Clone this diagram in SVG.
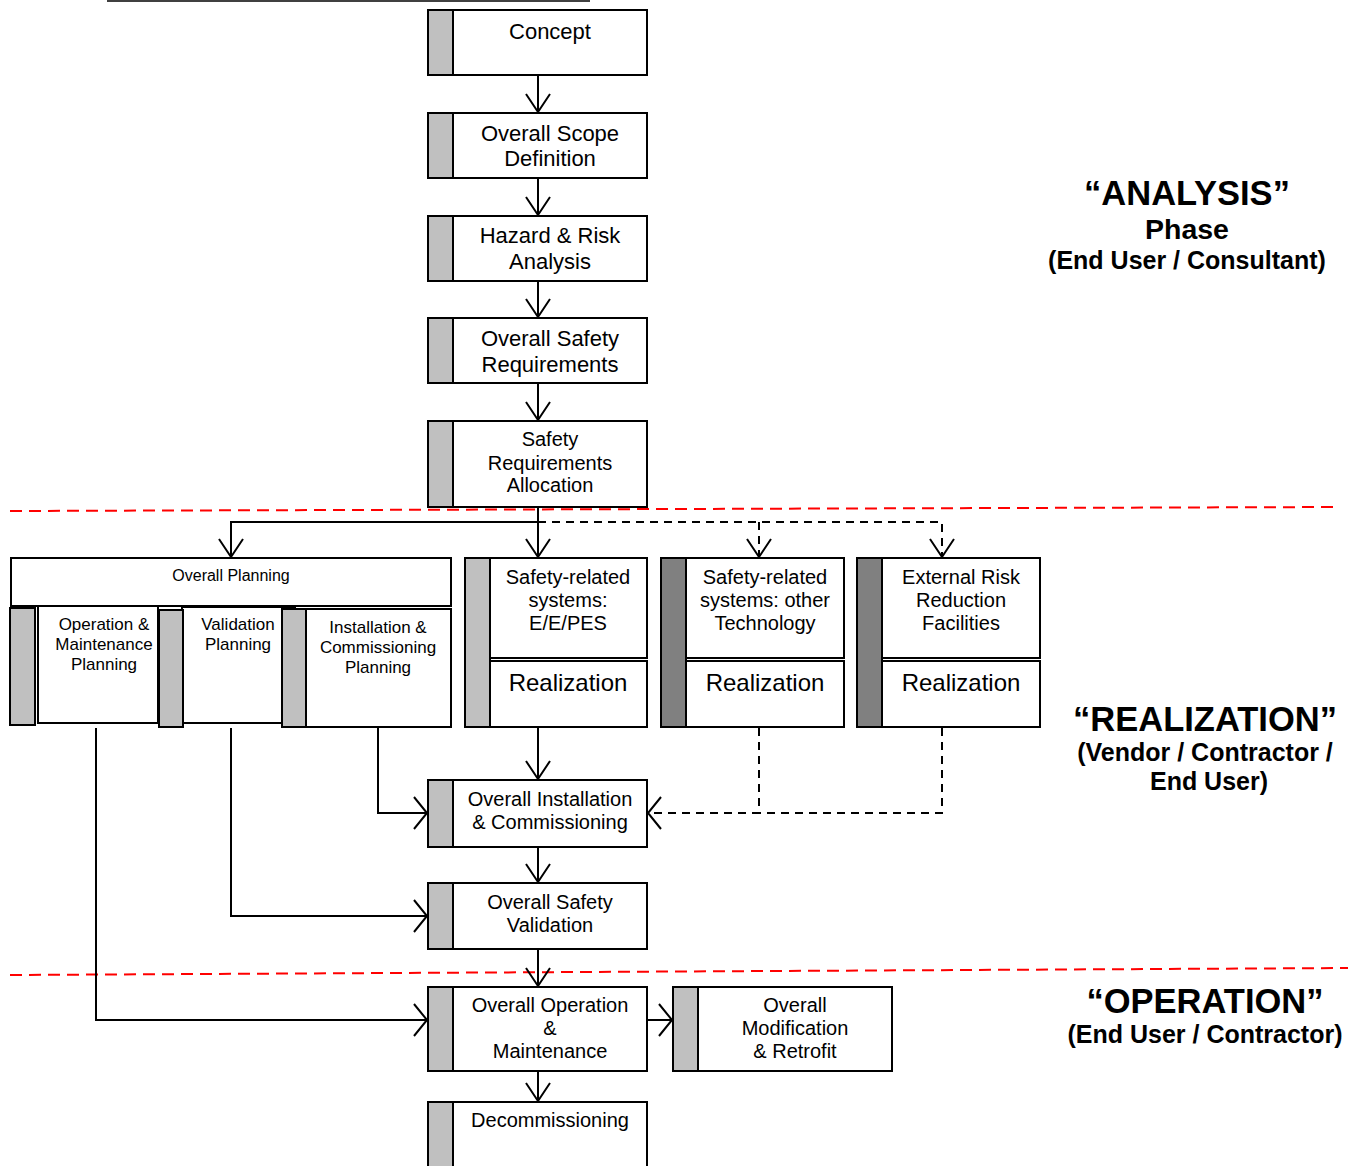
<svg xmlns="http://www.w3.org/2000/svg" width="1358" height="1166" viewBox="0 0 1358 1166">
<defs>
<style>
.box{fill:#fff;stroke:#000;stroke-width:2}
.strip{fill:#c0c0c0;stroke:#000;stroke-width:2}
.dstrip{fill:#808080;stroke:#000;stroke-width:2}
.t{font-family:"Liberation Sans",Arial,sans-serif;text-anchor:middle;fill:#000}
.t22{font-size:22px}
.t20{font-size:20px}
.t17{font-size:17px}
.t16{font-size:16px}
.t24{font-size:24px}
.hb{font-family:"Liberation Sans",Arial,sans-serif;font-weight:bold;text-anchor:middle;fill:#000}
.line{fill:none;stroke:#000;stroke-width:2}
.dash{fill:none;stroke:#000;stroke-width:2;stroke-dasharray:8 6}
.red{fill:none;stroke:#ff0000;stroke-width:2;stroke-dasharray:12 7}
</style>
<marker id="arrv" markerUnits="userSpaceOnUse" markerWidth="30" markerHeight="30" refX="0" refY="0" orient="auto" overflow="visible">
<path d="M-18,-12 L0,0 L-18,12" fill="none" stroke="#000" stroke-width="2"/>
</marker>
<marker id="arrh" markerUnits="userSpaceOnUse" markerWidth="30" markerHeight="30" refX="0" refY="0" orient="auto" overflow="visible">
<path d="M-13,-16 L0,0 L-13,16" fill="none" stroke="#000" stroke-width="2"/>
</marker>
</defs>

<line x1="107" y1="1" x2="590" y2="1" stroke="#000" stroke-width="1.5"/>

<g id="dividers">
<line class="red" x1="10" y1="511" x2="1340" y2="507"/>
<line class="red" x1="10" y1="975" x2="1348" y2="968"/>
</g>

<g id="connectors">
<path class="line" d="M538,76 V112" marker-end="url(#arrv)"/>
<path class="line" d="M538,179 V215" marker-end="url(#arrv)"/>
<path class="line" d="M538,282 V317" marker-end="url(#arrv)"/>
<path class="line" d="M538,384 V420" marker-end="url(#arrv)"/>
<path class="line" d="M538,508 V557" marker-end="url(#arrv)"/>
<path class="line" d="M538,522 H231 V557" marker-end="url(#arrv)"/>
<path class="dash" d="M538,522 H942 V557" marker-end="url(#arrv)"/>
<path class="dash" d="M759,522 V557" marker-end="url(#arrv)"/>
<path class="line" d="M538,728 V779" marker-end="url(#arrv)"/>
<path class="line" d="M378,728 V813 H427" marker-end="url(#arrh)"/>
<path class="dash" d="M759,728 V813 H648" marker-end="url(#arrh)"/>
<path class="dash" d="M942,728 V813 H759"/>
<path class="line" d="M538,848 V882" marker-end="url(#arrv)"/>
<path class="line" d="M231,728 V916 H427" marker-end="url(#arrh)"/>
<path class="line" d="M538,950 V986" marker-end="url(#arrv)"/>
<path class="line" d="M96,728 V1020 H427" marker-end="url(#arrh)"/>
<path class="line" d="M648,1020 H672" marker-end="url(#arrh)"/>
<path class="line" d="M538,1072 V1101" marker-end="url(#arrv)"/>
</g>

<g id="concept">
<rect class="box" x="428" y="10" width="219" height="65"/>
<rect class="strip" x="428" y="10" width="25" height="65"/>
<text class="t t22" x="550" y="39">Concept</text>
</g>

<g id="scope">
<rect class="box" x="428" y="113" width="219" height="65"/>
<rect class="strip" x="428" y="113" width="25" height="65"/>
<text class="t t22" x="550" y="141">Overall Scope</text>
<text class="t t22" x="550" y="166">Definition</text>
</g>

<g id="hazard">
<rect class="box" x="428" y="216" width="219" height="65"/>
<rect class="strip" x="428" y="216" width="25" height="65"/>
<text class="t t22" x="550" y="243">Hazard &amp; Risk</text>
<text class="t t22" x="550" y="269">Analysis</text>
</g>

<g id="requirements">
<rect class="box" x="428" y="318" width="219" height="65"/>
<rect class="strip" x="428" y="318" width="25" height="65"/>
<text class="t t22" x="550" y="346">Overall Safety</text>
<text class="t t22" x="550" y="372">Requirements</text>
</g>

<g id="allocation">
<rect class="box" x="428" y="421" width="219" height="86"/>
<rect class="strip" x="428" y="421" width="25" height="86"/>
<text class="t t20" x="550" y="446">Safety</text>
<text class="t t20" x="550" y="470">Requirements</text>
<text class="t t20" x="550" y="492">Allocation</text>
</g>

<g id="overall-planning">
<rect class="box" x="11" y="558" width="440" height="48"/>
<text class="t t16" x="231" y="581">Overall Planning</text>
</g>

<g id="om-planning">
<rect class="box" x="38" y="606" width="120" height="117"/>
<rect class="strip" x="10" y="608" width="25" height="117"/>
<text class="t t17" x="104" y="630">Operation &amp;</text>
<text class="t t17" x="104" y="650">Maintenance</text>
<text class="t t17" x="104" y="670">Planning</text>
</g>

<g id="validation-planning">
<rect class="box" x="182" y="607" width="113" height="116"/>
<rect class="strip" x="159" y="610" width="24" height="117"/>
<text class="t t17" x="238" y="630">Validation</text>
<text class="t t17" x="238" y="650">Planning</text>
</g>

<g id="ic-planning">
<rect class="box" x="306" y="609" width="145" height="118"/>
<rect class="strip" x="282" y="609" width="24" height="118"/>
<text class="t t17" x="378" y="633">Installation &amp;</text>
<text class="t t17" x="378" y="653">Commissioning</text>
<text class="t t17" x="378" y="673">Planning</text>
</g>

<g id="eepes">
<rect class="box" x="490" y="558" width="157" height="100"/>
<rect class="box" x="490" y="661" width="157" height="66"/>
<rect class="strip" x="465" y="558" width="25" height="169"/>
<text class="t t20" x="568" y="584">Safety-related</text>
<text class="t t20" x="568" y="607">systems:</text>
<text class="t t20" x="568" y="630">E/E/PES</text>
<text class="t t24" x="568" y="691">Realization</text>
</g>

<g id="other-tech">
<rect class="box" x="686" y="558" width="158" height="100"/>
<rect class="box" x="686" y="661" width="158" height="66"/>
<rect class="dstrip" x="661" y="558" width="25" height="169"/>
<text class="t t20" x="765" y="584">Safety-related</text>
<text class="t t20" x="765" y="607">systems: other</text>
<text class="t t20" x="765" y="630">Technology</text>
<text class="t t24" x="765" y="691">Realization</text>
</g>

<g id="external">
<rect class="box" x="882" y="558" width="158" height="100"/>
<rect class="box" x="882" y="661" width="158" height="66"/>
<rect class="dstrip" x="857" y="558" width="25" height="169"/>
<text class="t t20" x="961" y="584">External Risk</text>
<text class="t t20" x="961" y="607">Reduction</text>
<text class="t t20" x="961" y="630">Facilities</text>
<text class="t t24" x="961" y="691">Realization</text>
</g>

<g id="installation">
<rect class="box" x="428" y="780" width="219" height="67"/>
<rect class="strip" x="428" y="780" width="25" height="67"/>
<text class="t t20" x="550" y="806">Overall Installation</text>
<text class="t t20" x="550" y="829">&amp; Commissioning</text>
</g>

<g id="validation">
<rect class="box" x="428" y="883" width="219" height="66"/>
<rect class="strip" x="428" y="883" width="25" height="66"/>
<text class="t t20" x="550" y="909">Overall Safety</text>
<text class="t t20" x="550" y="932">Validation</text>
</g>

<g id="operation">
<rect class="box" x="428" y="987" width="219" height="84"/>
<rect class="strip" x="428" y="987" width="25" height="84"/>
<text class="t t20" x="550" y="1012">Overall Operation</text>
<text class="t t20" x="550" y="1035">&amp;</text>
<text class="t t20" x="550" y="1058">Maintenance</text>
</g>

<g id="modification">
<rect class="box" x="673" y="987" width="219" height="84"/>
<rect class="strip" x="673" y="987" width="25" height="84"/>
<text class="t t20" x="795" y="1012">Overall</text>
<text class="t t20" x="795" y="1035">Modification</text>
<text class="t t20" x="795" y="1058">&amp; Retrofit</text>
</g>

<g id="decommissioning">
<rect class="box" x="428" y="1102" width="219" height="80"/>
<rect class="strip" x="428" y="1102" width="25" height="80"/>
<text class="t t20" x="550" y="1127">Decommissioning</text>
</g>

<g id="phase-labels">
<text class="hb" x="1187" y="205" font-size="34.5">“ANALYSIS”</text>
<text class="hb" x="1187" y="239" font-size="28.5">Phase</text>
<text class="hb" x="1187" y="269" font-size="25">(End User / Consultant)</text>
<text class="hb" x="1205" y="731" font-size="34.5">“REALIZATION”</text>
<text class="hb" x="1205" y="761" font-size="25">(Vendor / Contractor /</text>
<text class="hb" x="1209" y="790" font-size="25">End User)</text>
<text class="hb" x="1205" y="1013" font-size="34.5">“OPERATION”</text>
<text class="hb" x="1205" y="1043" font-size="25">(End User / Contractor)</text>
</g>
</svg>
